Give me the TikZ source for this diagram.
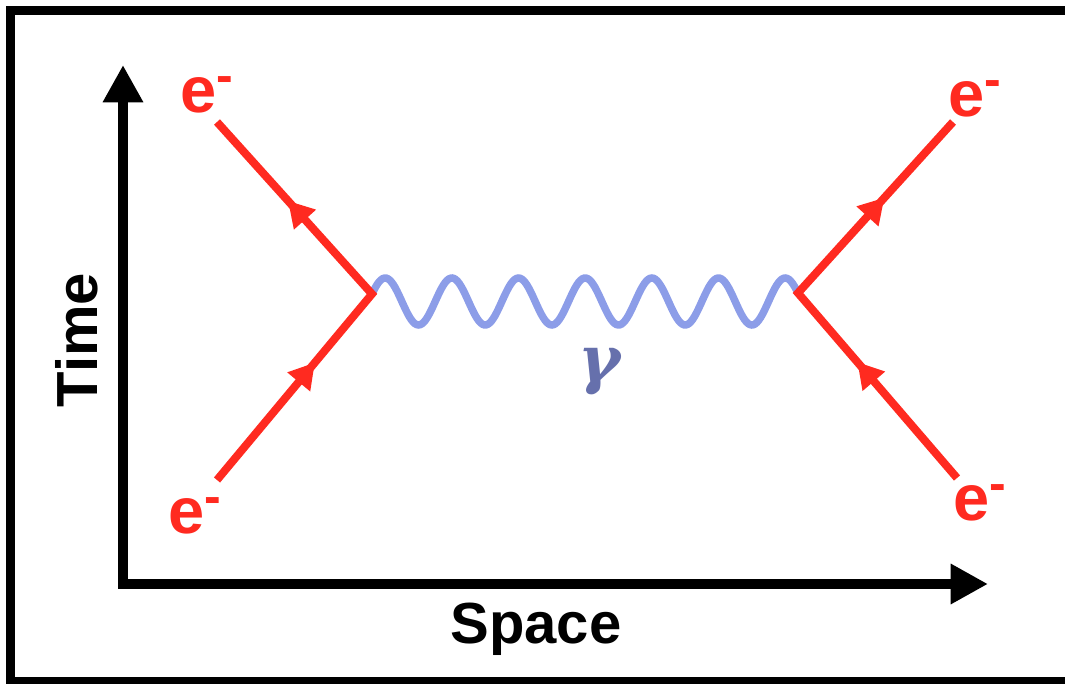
\documentclass[tikz,border=0pt]{standalone}
\usepackage{fontspec}
\setmainfont{Liberation Sans}
\newfontfamily\greekfont{DejaVu Serif}
\usepackage{tikz}
\usetikzlibrary{arrows.meta,positioning,decorations.markings}
\definecolor{electronred}{RGB}{255, 42, 32}
\definecolor{photonblue}{RGB}{140, 157, 232}
\definecolor{gammaslate}{RGB}{102, 112, 172}
\newcommand{\eminus}{e\raisebox{15pt}{\fontsize{37.5}{38}\selectfont -}}

\begin{document}
\begin{tikzpicture}[x=0.75pt, y=-0.75pt,
    axis/.style={line width=7.5pt, >={Triangle[length=28pt, width=28.5pt]}, <->},
    fermion/.style 2 args={electronred, line width=6pt, postaction={decorate},
        decoration={markings,
            mark=at position #1 with {\arrow{Triangle[length=19pt, width=21pt]}},
            mark=at position #2 with {\arrow{Triangle[length=19pt, width=21pt]}}}},
    photon/.style={photonblue, line width=5.6pt},
    elabel/.style={electronred, font=\fontsize{48.75}{50}\selectfont\bfseries, inner sep=0pt, anchor=base west},
    axislabel/.style={font=\fontsize{43.5}{45}\selectfont\bfseries, inner sep=0pt, anchor=base}]
    \useasboundingbox (0,0) rectangle (1065,684);

    % Frame (right side cut off)
    \begin{scope}
        \clip (0,0) rectangle (1065,684);
        \draw[line width=6.75pt] (10,10.5) rectangle (1080,681);
    \end{scope}

    % Coordinate axes
    \coordinate (origin) at (123,584);
    \coordinate (timeend) at (123,65);
    \coordinate (spaceend) at (988,584);
    \draw[axis] (timeend) -- (origin) -- (spaceend);
    \node[axislabel] (space) at (536,643) {Space};
    \node[axislabel, rotate=90] (time) at (97,340) {Time};

    % Vertices and external legs
    \coordinate (vleft) at (372,294);
    \coordinate (vright) at (798,293);
    \coordinate (inleft) at (217,480);
    \coordinate (outleft) at (217,122);
    \coordinate (inright) at (957,478);
    \coordinate (outright) at (953,122);

    % Virtual photon
    \draw[photon] plot[domain=372:798, samples=240]
        (\x, {301.5 - 23.5*sin(18.7 + 5.4*(\x-372))});
    \node[gammaslate, inner sep=0pt, font=\fontsize{48}{48}\selectfont\greekfont\bfseries\itshape] (gamma) at (600,372) {γ};

    % Electron lines
    \draw[fermion={0.323}{0.776}] (inleft) -- (vleft) -- (outleft);
    \draw[fermion={0.322}{0.785}] (inright) -- (vright) -- (outright);

    % Electron labels
    \node[elabel] (eoutleft) at (180,113) {\eminus};
    \node[elabel] (einleft) at (168,533) {\eminus};
    \node[elabel] (eoutright) at (948,117) {\eminus};
    \node[elabel] (einright) at (953,520) {\eminus};
\end{tikzpicture}
\end{document}
